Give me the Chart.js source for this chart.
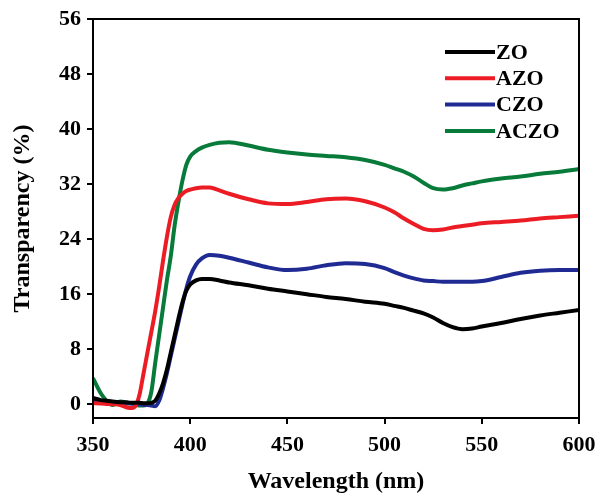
<!DOCTYPE html>
<html>
<head>
<meta charset="utf-8">
<script src="https://cdn.jsdelivr.net/npm/chart.js@4.4.0/dist/chart.umd.min.js"></script>
<style>
  html, body { margin: 0; padding: 0; background: #fff; }
  #wrap { width: 597px; height: 494px; }
</style>
</head>
<body>
<div id="wrap"><canvas id="myChart" width="597" height="494"></canvas></div>
<script>
const wavelength = [350, 354, 357, 360, 364, 368, 370, 372, 374, 376, 378, 380, 382, 384, 386, 388, 390, 392, 394, 396, 398, 400, 403, 406, 410, 415, 420,
  430, 440, 450, 460, 470, 480, 490, 500, 505, 510, 515, 520, 525, 530, 535, 540, 545, 550, 560, 570, 580, 590, 600];

const zo = [0.9, 0.6, 0.5, 0.4, 0.3, 0.25, 0.2, 0.2, 0.2, 0.15, 0.15, 0.2, 0.5, 1.5, 3.0, 5.0, 7.5, 10.0, 12.5, 14.8, 16.5, 17.4, 18.0, 18.2, 18.2, 18.0, 17.7,
  17.3, 16.8, 16.4, 16.0, 15.6, 15.3, 14.9, 14.6, 14.3, 14.0, 13.6, 13.2, 12.6, 11.8, 11.2, 10.9, 11.0, 11.3, 11.8, 12.4, 12.9, 13.3, 13.7];
const azo = [0.15, 0.1, 0.05, 0.0, -0.1, -0.5, -0.55, -0.2, 1.5, 4.5, 7.5, 10.5, 13.5, 17.0, 20.8, 24.3, 27.2, 29.0, 30.0, 30.6, 31.0, 31.2, 31.4, 31.5, 31.5, 31.1, 30.6,
  29.8, 29.2, 29.1, 29.4, 29.8, 29.9, 29.5, 28.6, 27.9, 27.0, 26.2, 25.5, 25.3, 25.4, 25.7, 25.9, 26.1, 26.3, 26.5, 26.7, 27.0, 27.2, 27.4];
const czo = [0.5, 0.4, 0.3, 0.2, 0.1, 0.1, 0.1, 0.0, 0.0, -0.1, -0.1, -0.2, -0.3, 0.5, 2.3, 4.5, 7.0, 9.5, 12.0, 14.5, 16.8, 18.6, 20.3, 21.2, 21.7, 21.6, 21.3,
  20.6, 19.9, 19.5, 19.7, 20.2, 20.5, 20.4, 19.8, 19.2, 18.7, 18.3, 18.0, 17.9, 17.8, 17.8, 17.8, 17.8, 17.9, 18.5, 19.1, 19.4, 19.5, 19.5];
const aczo = [3.8, 1.6, 0.5, -0.1, 0.4, 0.2, 0.1, 0.0, -0.2, -0.2, 0.1, 1.8, 6.0, 10.0, 14.0, 18.0, 21.5, 26.0, 29.5, 32.5, 34.8, 36.0, 36.8, 37.3, 37.7, 38.0, 38.1,
  37.6, 37.0, 36.6, 36.3, 36.1, 35.9, 35.5, 34.8, 34.3, 33.8, 33.1, 32.2, 31.4, 31.2, 31.4, 31.8, 32.1, 32.4, 32.8, 33.1, 33.5, 33.8, 34.2];

const seriesNames = ["ZO", "AZO", "CZO", "ACZO"];
const seriesColors = ["#000000", "#ec1c24", "#1f2a93", "#087a3a"];
const seriesValues = [zo, azo, czo, aczo];
const xTicks = [350, 400, 450, 500, 550, 600];
const yTicks = [0, 8, 16, 24, 32, 40, 48, 56];

const fontFamily = "'Liberation Serif', 'Times New Roman', serif";

const frame = {
  id: "frame",
  afterDraw(chart) {
    const { ctx, chartArea: a } = chart;
    ctx.save();
    ctx.strokeStyle = "#000";
    ctx.lineWidth = 2;
    ctx.strokeRect(a.left, a.top, a.right - a.left, a.bottom - a.top);
    // legend inside top right
    ctx.font = "bold 22px " + fontFamily;
    ctx.textBaseline = "middle";
    chart.data.datasets.forEach((ds, i) => {
      const y = 52 + i * 26.3;
      ctx.strokeStyle = ds.borderColor;
      ctx.lineWidth = 4;
      ctx.beginPath();
      ctx.moveTo(445, y);
      ctx.lineTo(495, y);
      ctx.stroke();
      ctx.fillStyle = "#000";
      ctx.fillText(ds.label, 496, y + 1);
    });
    ctx.restore();
  }
};

const chart = new Chart(document.querySelector("#myChart"), {
  type: "line",
  data: {
    datasets: seriesNames.map((name, i) => ({
      label: name,
      data: wavelength.map((w, j) => ({ x: w, y: seriesValues[i][j] })),
      borderColor: seriesColors[i],
      backgroundColor: seriesColors[i],
      borderWidth: 4,
      pointRadius: 0,
      cubicInterpolationMode: "monotone",
    })),
  },
  options: {
    responsive: false,
    animation: false,
    layout: { padding: { top: 19, right: 18, left: 0, bottom: 0 } },
    plugins: { legend: { display: false }, tooltip: { enabled: false } },
    scales: {
      x: {
        type: "linear",
        min: 350,
        max: 600,
        afterBuildTicks: (s) => { s.ticks = xTicks.map((v) => ({ value: v })); },
        afterFit: (s) => { s.height = 76; s.paddingLeft = 0; s.paddingRight = 0; },
        grid: { drawOnChartArea: false, drawTicks: true, tickLength: 6, color: "#000", lineWidth: 2 },
        border: { display: true, color: "#000", width: 2 },
        ticks: { color: "#000", padding: 8, maxRotation: 0, font: { family: fontFamily, size: 22, weight: "bold" } },
        title: { display: true, text: "Wavelength (nm)", color: "#000", padding: { top: 0, bottom: 0 }, font: { family: fontFamily, size: 24, weight: "bold", lineHeight: 1 } },
      },
      y: {
        min: -2,
        max: 56,
        afterBuildTicks: (s) => { s.ticks = yTicks.map((v) => ({ value: v })); },
        afterFit: (s) => { s.width = 93; s.paddingTop = 0; s.paddingBottom = 0; },
        grid: { drawOnChartArea: false, drawTicks: true, tickLength: 6, color: "#000", lineWidth: 2 },
        border: { display: true, color: "#000", width: 2 },
        ticks: { color: "#000", padding: 6, font: { family: fontFamily, size: 22, weight: "bold" } },
        title: { display: true, text: "Transparency (%)", color: "#000", padding: { bottom: 0, top: 8 }, font: { family: fontFamily, size: 24, weight: "bold" } },
      },
    },
  },
  plugins: [frame],
});
</script>
</body>
</html>
